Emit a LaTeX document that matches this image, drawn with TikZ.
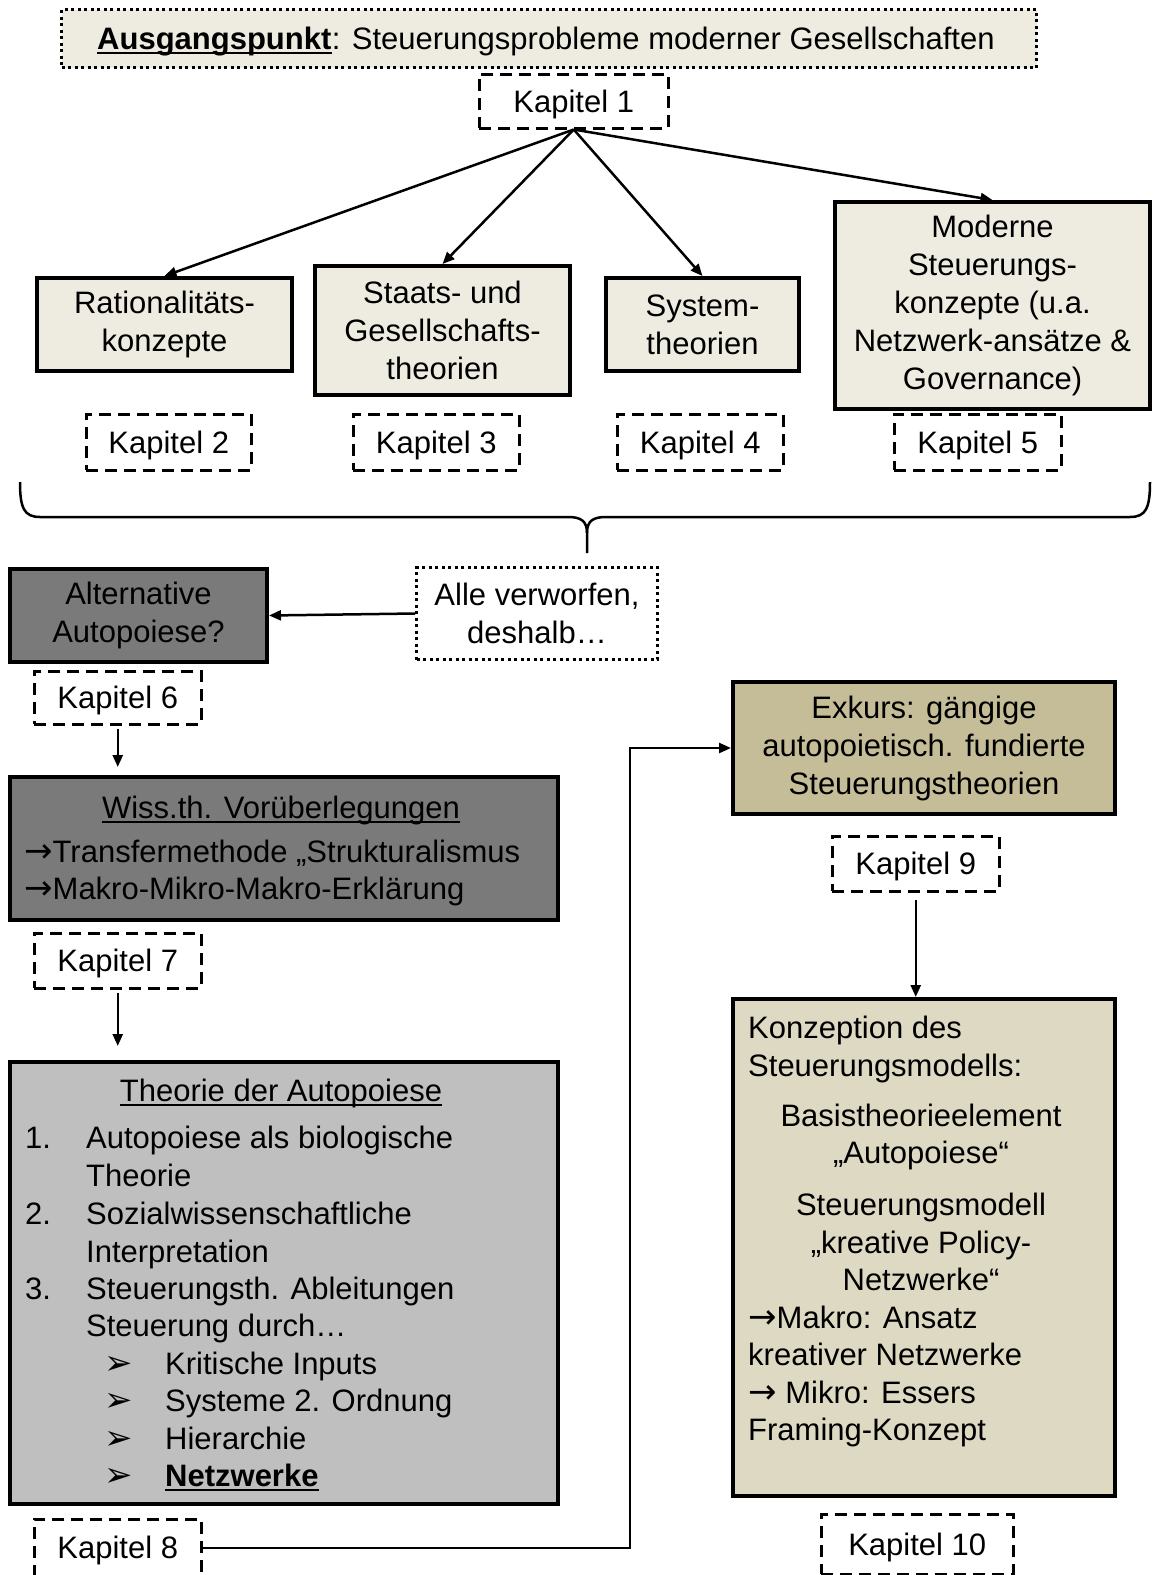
\documentclass[tikz,border=0pt]{standalone}
\usepackage{fontspec}
\setmainfont{Liberation Sans}
\newfontfamily\symfont{DejaVu Sans}
\usetikzlibrary{arrows.meta}
\definecolor{beige}{HTML}{EEECE1}
\definecolor{darkgrey}{HTML}{7A7A7A}
\definecolor{midgrey}{HTML}{BFBFBF}
\definecolor{tan}{HTML}{C4BD97}
\definecolor{lighttan}{HTML}{DDD9C3}
\newcommand{\bul}{{\symfont\fontsize{34}{38}\selectfont ➢}}
\newcommand{\rarr}{{\symfont\fontsize{34}{38}\selectfont →}}

\tikzset{
  panel/.style={draw=black, line width=4pt, inner sep=0pt, anchor=north west, align=center},
  kap/.style={draw=black, line width=2.5pt, dash pattern=on 12pt off 7pt, fill=white,
              inner sep=0pt, anchor=north west, align=center, text height=22pt, text depth=0pt},
  dotbox/.style={draw=black, line width=3pt, dash pattern=on 3pt off 3.5pt,
                 inner sep=0pt, anchor=north west, align=center},
  link/.style={line width=2.5pt, -{Triangle[length=12pt,width=10pt]}},
  txt/.style={anchor=base west, inner sep=0pt},
  ctxt/.style={anchor=base, inner sep=0pt},
  underbarline/.style={line width=2pt}
}
% underline a named text node
\newcommand{\underlinenode}[1]{\draw[underbarline] ([yshift=-4pt]#1.base west) -- ([yshift=-4pt]#1.base east);}

\begin{document}
\begin{tikzpicture}[x=1pt, y=-1pt, font=\fontsize{31}{38}\selectfont]
\useasboundingbox (0,0) rectangle (1153,1575);
\fill[white] (0,0) rectangle (1153,1575);
\clip (0,0) rectangle (1153,1575);

% starting point
\node[dotbox, fill=beige, minimum width=975pt, minimum height=58pt] (top) at (60,8) {};
\node[txt, font=\fontsize{31}{38}\selectfont\bfseries] (ausg) at (97,49) {Ausgangspunkt};
\node[txt] (problem) at (ausg.base east) {: Steuerungsprobleme moderner Gesellschaften};
\underlinenode{ausg}
\node[kap, minimum width=189pt, minimum height=54pt] (k1) at (478,73) {Kapitel 1};

% rejected approaches
\node[panel, fill=beige, minimum width=255pt, minimum height=93pt] (rat) at (35,276) {Rationalitäts-\\konzepte};
\node[panel, fill=beige, minimum width=255pt, minimum height=129pt] (sta) at (313,264) {Staats- und\\Gesellschafts-\\theorien};
\node[panel, fill=beige, minimum width=193pt, minimum height=93pt] (sys) at (604,276) {System-\\theorien};
\node[panel, fill=beige, minimum width=315pt, minimum height=207pt] (mod) at (833,200)
  {Moderne\\Steuerungs-\\konzepte (u.a.\\Netzwerk-ansätze \&\\Governance)};

\node[kap, minimum width=165pt, minimum height=56pt] (k2) at (85,413) {Kapitel 2};
\node[kap, minimum width=166pt, minimum height=56pt] (k3) at (352,413) {Kapitel 3};
\node[kap, minimum width=166pt, minimum height=56pt] (k4) at (616,413) {Kapitel 4};
\node[kap, minimum width=167pt, minimum height=56pt] (k5) at (893,413) {Kapitel 5};

\draw[link] (k1.south) -- (rat.north);
\draw[link] (k1.south) -- (sta.north);
\draw[link] (k1.south) -- (sys.north);
\draw[link] (k1.south) -- (mod.north);

% brace gathering chapters 2 to 5
\coordinate (bl) at (20,482);
\coordinate (br) at (1150,482);
\coordinate (tip) at (587,553);
\draw[line width=2.5pt, line join=round]
  (bl) .. controls (20,508) and (24,517) .. (40,517) -- (568,517)
  .. controls (581,517) and (587,521) .. (587,533) -- (tip);
\draw[line width=2.5pt, line join=round]
  (br) .. controls (1150,508) and (1146,517) .. (1130,517) -- (606,517)
  .. controls (593,517) and (587,521) .. (587,533);

% left column
\node[dotbox, fill=white, minimum width=241pt, minimum height=92pt] (alle) at (415,566) {Alle verworfen,\\deshalb…};
\node[panel, fill=darkgrey, minimum width=257pt, minimum height=93pt] (alt) at (8,567) {Alternative\\Autopoiese?};
\draw[link] (alle.west) -- (alt.east);

\node[kap, minimum width=167pt, minimum height=53pt] (k6) at (33,670) {Kapitel 6};
\node[panel, fill=darkgrey, minimum width=548pt, minimum height=143pt] (wiss) at (8,775) {};
\draw[link, shorten <=3pt, shorten >=8pt] (k6.south) -- (k6.south |- wiss.north);
\node[ctxt] (wisstitle) at (281,818) {Wiss.th. Vorüberlegungen};
\underlinenode{wisstitle}
\node[txt] at (24,862) {\rarr Transfermethode „Strukturalismus};
\node[txt] at (24,899) {\rarr Makro-Mikro-Makro-Erklärung};

\node[kap, minimum width=167pt, minimum height=55pt] (k7) at (33,932) {Kapitel 7};
\node[panel, fill=midgrey, minimum width=548pt, minimum height=442pt] (theo) at (8,1060) {};
\draw[link, shorten <=3pt, shorten >=14pt] (k7.south) -- (k7.south |- theo.north);
\node[ctxt] (theotitle) at (281,1101) {Theorie der Autopoiese};
\underlinenode{theotitle}
\node[txt] at (25,1148) {1.};
\node[txt] at (86,1148) {Autopoiese als biologische};
\node[txt] at (86,1186) {Theorie};
\node[txt] at (25,1224) {2.};
\node[txt] at (86,1224) {Sozialwissenschaftliche};
\node[txt] at (86,1262) {Interpretation};
\node[txt] at (25,1299) {3.};
\node[txt] at (86,1299) {Steuerungsth. Ableitungen};
\node[txt] at (86,1336) {Steuerung durch…};
\node[txt] at (104,1374) {\bul};
\node[txt] at (165,1374) {Kritische Inputs};
\node[txt] at (104,1411) {\bul};
\node[txt] at (165,1411) {Systeme 2. Ordnung};
\node[txt] at (104,1449) {\bul};
\node[txt] at (165,1449) {Hierarchie};
\node[txt] at (104,1486) {\bul};
\node[txt, font=\fontsize{31}{38}\selectfont\bfseries] (netz) at (165,1486) {Netzwerke};
\underlinenode{netz}

\node[kap, minimum width=167pt, minimum height=57pt] (k8) at (33,1518) {Kapitel 8};

% right column
\node[panel, fill=tan, minimum width=382pt, minimum height=132pt] (exk) at (731,680)
  {Exkurs: gängige\\autopoietisch. fundierte\\Steuerungstheorien};
\draw[link] (k8.east) -- (630,0 |- k8.east) |- (exk.west);

\node[kap, minimum width=167pt, minimum height=55pt] (k9) at (831,835) {Kapitel 9};
\node[panel, fill=lighttan, minimum width=382pt, minimum height=497pt] (konz) at (731,997) {};
\draw[link, shorten <=7pt] (k9.south) -- (k9.south |- konz.north);
\node[txt] at (748,1038) {Konzeption des};
\node[txt] at (748,1076) {Steuerungsmodells:};
\node[ctxt] at (921,1126) {Basistheorieelement};
\node[ctxt] at (921,1163) {„Autopoiese“};
\node[ctxt] at (921,1215) {Steuerungsmodell};
\node[ctxt] at (921,1253) {„kreative Policy-};
\node[ctxt] at (921,1290) {Netzwerke“};
\node[txt] at (748,1328) {\rarr Makro: Ansatz};
\node[txt] at (748,1365) {kreativer Netzwerke};
\node[txt] at (748,1403) {\rarr\ Mikro: Essers};
\node[txt] at (748,1440) {Framing-Konzept};

\node[kap, minimum width=192pt, minimum height=60pt] (k10) at (820,1513) {Kapitel 10};
\end{tikzpicture}
\end{document}
